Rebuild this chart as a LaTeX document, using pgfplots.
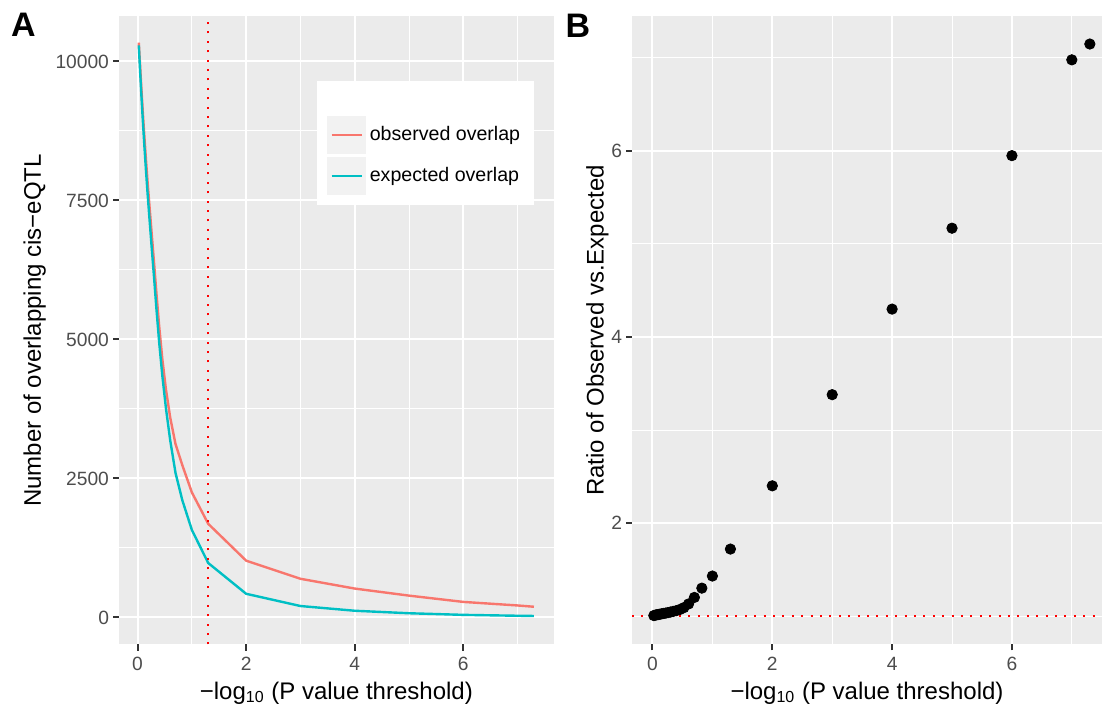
\documentclass[border=0pt]{standalone}
\usepackage{fontspec}
\setmainfont{Liberation Sans}
\usepackage{pgfplots}
\usepackage{pgfplotstable}
\pgfplotsset{compat=1.18}

\definecolor{ggbg}{HTML}{EBEBEB}
\definecolor{ggtick}{HTML}{333333}
\definecolor{ggtext}{HTML}{4D4D4D}
\definecolor{obscol}{HTML}{F8766D}
\definecolor{expcol}{HTML}{00BFC4}
\definecolor{keybg}{HTML}{F2F2F2}

\pgfplotstableread{
x      obs    expd
0.0223 10340  10290
0.0458 9940   9840
0.0706 9510   9390
0.0969 9080   8940
0.1249 8660   8490
0.1549 8230   8040
0.1871 7800   7590
0.2218 7370   7140
0.2596 6910   6660
0.3010 6410   6150
0.3468 5840   5560
0.3979 5240   4950
0.4559 4650   4350
0.5229 4100   3760
0.6021 3590   3180
0.6990 3120   2600
0.8239 2740   2110
1.0000 2250   1575
1.3010 1685   980
2.0000 1022   426
3.0000 696    206
4.0000 520    121
5.0000 393    76
6.0000 280    47
7.0000 216    31
7.3010 193    27
}\tabA

\pgfplotstableread{
x      ratio
0.0223 1.005
0.0458 1.010
0.0706 1.013
0.0969 1.016
0.1249 1.020
0.1549 1.024
0.1871 1.028
0.2218 1.032
0.2596 1.037
0.3010 1.043
0.3468 1.050
0.3979 1.058
0.4559 1.070
0.5229 1.090
0.6021 1.130
0.6990 1.200
0.8239 1.300
1.0000 1.430
1.3010 1.720
2.0000 2.400
3.0000 3.380
4.0000 4.300
5.0000 5.170
6.0000 5.950
7.0000 6.980
7.3010 7.150
}\tabB

\pgfplotsset{
  ggstyle/.style={
    scale only axis,
    axis background/.style={fill=ggbg},
    axis line style={draw=none},
    grid=both,
    major grid style={white, line width=1pt},
    minor grid style={white, line width=0.5pt},
    tick align=outside,
    tick pos=left,
    major tick length=3pt,
    minor tick length=0pt,
    tick style={ggtick, line width=1pt},
    ticklabel style={font=\fontsize{9.6}{11}\selectfont, text=ggtext},
    yticklabel style={xshift=1.5pt},
    label style={font=\fontsize{12}{14}\selectfont},
    scaled ticks=false,
    /pgf/number format/assume math mode=true,
    /pgf/number format/1000 sep={},
    xtick={0,2,4,6},
    minor xtick={1,3,5,7},
    xlabel shift=-1.5pt,
  }
}

\begin{document}
\begin{tikzpicture}
\useasboundingbox (0,0) rectangle (551pt,353pt);

\begin{axis}[ggstyle,
  at={(59.5pt,30.75pt)}, anchor=south west,
  width=217.35pt, height=314pt,
  xmin=-0.342, xmax=7.665,
  ymin=-486, ymax=10809,
  ytick={0,2500,5000,7500,10000},
  minor ytick={1250,3750,6250,8750},
  xlabel={−log\textsubscript{10} (P value threshold)},
  ylabel={Number of overlapping cis−eQTL},
  ylabel shift=-2pt,
  legend style={at={(0.4555,0.898)}, anchor=north west, fill=white, draw=none,
    inner xsep=5pt, inner ysep=5pt, row sep=1.75pt,
    font=\fontsize{9.8}{11}\selectfont, cells={anchor=west}},
  legend image code/.code={
    \fill[keybg] (0pt,-8.75pt) rectangle (18pt,8.75pt);
    \draw[#1] (1.5pt,0pt) -- (16.5pt,0pt);},
]
\addlegendimage{empty legend}
\addlegendentry{\rule{0pt}{5.5pt}}
\addplot[obscol, line width=1.2pt] table[x=x, y=obs] {\tabA};
\addlegendentry{observed overlap}
\addplot[expcol, line width=1.2pt] table[x=x, y=expd] {\tabA};
\addlegendentry{expected overlap}
\addplot[red, line width=1pt, dash pattern=on 1pt off 3.7pt, forget plot]
  coordinates {(1.301,-486) (1.301,10809)};
\end{axis}

\begin{axis}[ggstyle,
  at={(316pt,30.75pt)}, anchor=south west,
  width=235pt, height=314pt,
  xmin=-0.342, xmax=7.504,
  ymin=0.694, ymax=7.446,
  ytick={2,4,6},
  minor ytick={1,3,5,7},
  xlabel={−log\textsubscript{10} (P value threshold)},
  ylabel={Ratio of Observed vs.Expected},
  ylabel shift=-5.5pt,
]
\addplot[only marks, mark=*, mark size=2.6pt, black] table[x=x, y=ratio] {\tabB};
\addplot[red, line width=1pt, dash pattern=on 1pt off 3.7pt]
  coordinates {(-0.342,1) (7.504,1)};
\end{axis}

\node[font=\bfseries\fontsize{17}{17}\selectfont] at (11.7pt,340.5pt) {A};
\node[font=\bfseries\fontsize{17}{17}\selectfont] at (289pt,340pt) {B};
\end{tikzpicture}
\end{document}
